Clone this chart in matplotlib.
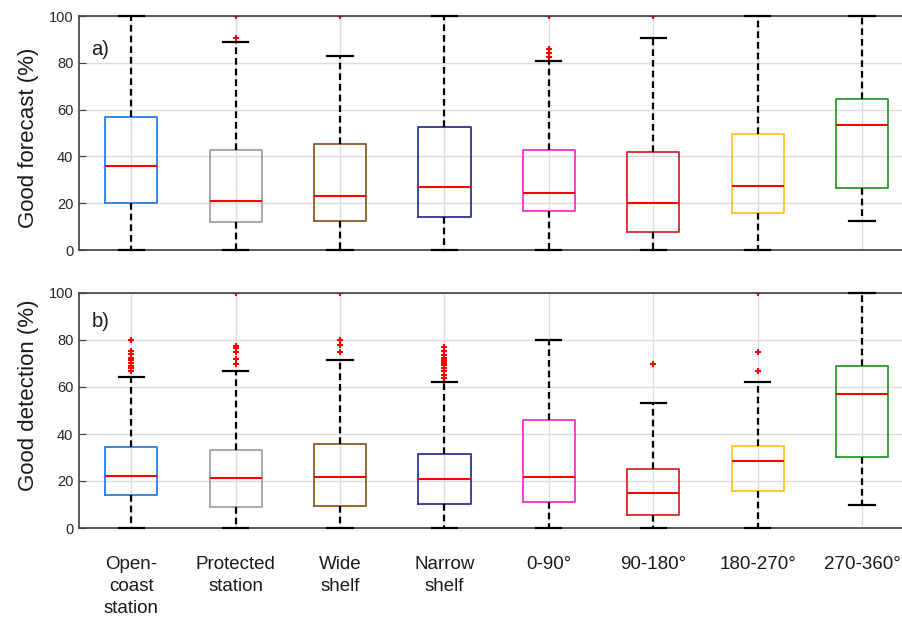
import matplotlib
matplotlib.use('Agg')
import matplotlib.pyplot as plt

plt.rcParams['font.family'] = ['Liberation Sans', 'DejaVu Sans']

categories = ['Open-\ncoast\nstation', 'Protected\nstation', 'Wide\nshelf', 'Narrow\nshelf',
              '0-90°', '90-180°', '180-270°', '270-360°']
box_colors = ['#2a7de1', '#a3a3a3', '#8b5a2b', '#34348c',
              '#f032c8', '#d02a2a', '#fcc42a', '#2a9a2d']

# a) good forecast (%)
fc_q1 = [20.1, 11.8, 12.4, 14.2, 16.7, 7.7, 16.0, 26.5]
fc_med = [36.0, 20.8, 23.2, 27.1, 24.5, 20.1, 27.2, 53.3]
fc_q3 = [57.0, 42.6, 45.3, 52.7, 42.6, 42.0, 49.7, 64.4]
fc_lo = [0, 0, 0, 0, 0, 0, 0, 12.5]
fc_hi = [100, 88.7, 83.0, 100, 80.9, 90.6, 100, 100]
fc_fliers = [[], [100, 90.7], [100], [], [100, 85.8, 84.0, 82.6], [100], [], []]

# b) good detection (%)
det_q1 = [14.2, 9.0, 9.5, 10.1, 11.1, 5.7, 15.9, 30.3]
det_med = [22.2, 21.3, 21.8, 20.9, 21.8, 15.1, 28.7, 56.9]
det_q3 = [34.3, 33.1, 35.8, 31.4, 46.1, 25.3, 35.1, 68.8]
det_lo = [0, 0, 0, 0, 0, 0, 0, 10.0]
det_hi = [64.3, 66.7, 71.4, 62.3, 79.9, 53.2, 62.3, 100]
det_fliers = [[80, 75.4, 74, 72.5, 71.4, 70.3, 69.1, 68, 67],
              [100, 77.5, 76.8, 75.1, 71.8, 70],
              [100, 80.1, 78, 75.1],
              [77.1, 75.4, 73.7, 72.3, 71.3, 70.6, 70.1, 69.4, 68, 66.6, 65.1, 63.7],
              [],
              [69.8],
              [100, 75.0, 66.6],
              []]

W, H = 902, 619
fig = plt.figure(figsize=(W / 100, H / 100), dpi=100)
ax_a = fig.add_axes([79 / W, (H - 250) / H, (W - 79) / W, 234 / H])
ax_b = fig.add_axes([79 / W, (H - 528) / H, (W - 79) / W, 235 / H])

positions = list(range(1, len(categories) + 1))


def draw_panel(ax, q1, med, q3, lo, hi, fliers, ylabel, label_y, tag, tag_y):
    stats = []
    for i in range(len(q1)):
        stats.append({'q1': q1[i], 'med': med[i], 'q3': q3[i],
                      'whislo': lo[i], 'whishi': hi[i], 'fliers': fliers[i]})
    parts = ax.bxp(stats, positions=positions, widths=0.5, capwidths=0.24,
                   whiskerprops=dict(color='black', lw=1.6, linestyle=(0, (3, 1.8))),
                   capprops=dict(color='black', lw=1.6),
                   medianprops=dict(color='#ff0000', lw=1.5),
                   flierprops=dict(marker='+', markeredgecolor='#ff0000',
                                   markersize=5, markeredgewidth=1.5),
                   boxprops=dict(lw=1.3))
    for box, c in zip(parts['boxes'], box_colors):
        box.set_color(c)
    for cap in parts['caps']:
        cap.set_clip_on(False)
        cap.set_zorder(3)

    ax.set_xlim(0.5, 0.5 + (W - 79) / 104.4)
    ax.set_ylim(0, 100)
    ax.set_yticks([0, 20, 40, 60, 80, 100])
    ax.set_xticks(positions)
    ax.grid(True, color='#dcdcdc', lw=1)
    ax.set_axisbelow(True)
    for s in ['left', 'top', 'bottom']:
        ax.spines[s].set_color('#404040')
        ax.spines[s].set_linewidth(1.2)
    ax.spines['right'].set_visible(False)
    ax.tick_params(axis='y', direction='in', length=5, labelsize=10.5,
                   colors='#404040', labelcolor='#262626', pad=4)
    ax.tick_params(axis='x', direction='in', length=0)
    ax.set_ylabel(ylabel, fontsize=16, color='#1a1a1a')
    ax.yaxis.set_label_coords(-0.049, label_y)
    ax.text(0.015, tag_y, tag, transform=ax.transAxes, fontsize=14.5,
            va='center', ha='left', color='#1a1a1a')


draw_panel(ax_a, fc_q1, fc_med, fc_q3, fc_lo, fc_hi, fc_fliers,
           'Good forecast (%)', 0.48, 'a)', 0.855)
draw_panel(ax_b, det_q1, det_med, det_q3, det_lo, det_hi, det_fliers,
           'Good detection (%)', 0.567, 'b)', 0.88)

ax_a.set_xticklabels([])
ax_b.set_xticklabels(categories, fontsize=13.5, va='top', linespacing=1.38, color='#1a1a1a')
ax_b.tick_params(axis='x', pad=20)

fig.savefig('out.png', dpi=100)
